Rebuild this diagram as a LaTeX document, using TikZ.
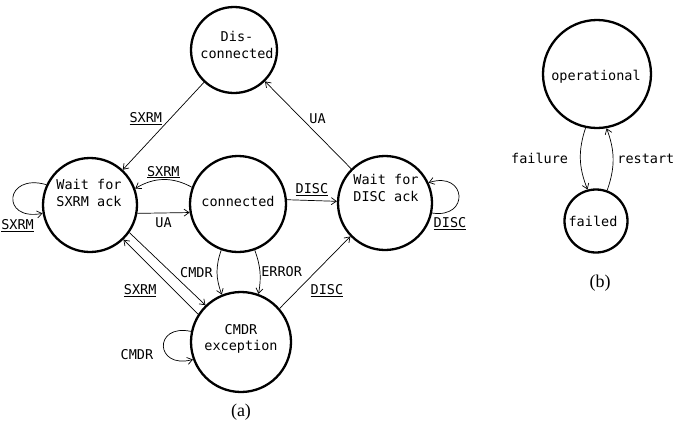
\documentclass[tikz,border=0pt]{standalone}
\usepackage{fontspec}
\setmainfont{Liberation Serif}
\newfontfamily\monof{DejaVu Sans Mono}
\usetikzlibrary{arrows.meta}
\begin{document}
\begin{tikzpicture}[x=1pt,y=-1pt,
  state/.style={circle,draw,line width=2.3pt,inner sep=0pt},
  txt/.style={font=\monof\fontsize{13.5}{16.5}\selectfont,align=center,inner sep=0pt},
  lab/.style={font=\monof\fontsize{13.5}{15}\selectfont,inner sep=1pt},
  arr/.style={-{Straight Barb[length=5pt,width=7pt]},line width=0.7pt},
  capt/.style={font=\fontsize{18}{20}\selectfont,inner sep=0pt}]
\useasboundingbox (0,0) rectangle (675,426);
% states
\node[state,minimum size=86pt]  (dis)  at (234,50)  {};
\node[state,minimum size=94pt]  (wsx)  at (90,205)  {};
\node[state,minimum size=96pt]  (con)  at (238,204) {};
\node[state,minimum size=94pt]  (wdi)  at (385,203) {};
\node[state,minimum size=100pt] (cmdr) at (241,342) {};
\node[state,minimum size=108pt] (op)   at (597,74)  {};
\node[state,minimum size=63pt]  (fail) at (596,221) {};
% state texts
\node[txt] (tdis)  at (237,45)  {Dis-\\connected};
\node[txt] (twsx)  at (89,193)  {Wait for\\SXRM ack};
\node[txt] (tcon)  at (238,201) {connected};
\node[txt] (twdi)  at (386,188) {Wait for\\DISC ack};
\node[txt] (tcmdr) at (241,339) {CMDR\\exception};
\node[txt] (top)   at (596,77)  {operational};
\node[txt] (tfail) at (593,221) {failed};
% transitions (a)
\draw[arr] (dis) -- node[lab,pos=0.5,anchor=south east]{\underline{SXRM}} (wsx);
\draw[arr] (wdi) -- node[lab,pos=0.5,anchor=south west]{UA} (dis);
\draw[arr] (con.160) to[bend right=30] node[lab,above]{\underline{SXRM}} (wsx.20);
\draw[arr] (wsx.-10) -- node[lab,below=3pt]{UA} (con.190);
\draw[arr] (con.5) -- node[lab,above=3pt]{\underline{DISC}} (wdi.178);
\draw[arr] (con.250) to[bend right=20] node[lab,left=3pt]{CMDR} (cmdr.112);
\draw[arr] (con.290) to[bend left=15] node[lab,right=0pt]{ERROR} (cmdr.70);
\draw[arr] (cmdr.147) -- node[lab,pos=0.5,anchor=north east,xshift=-3pt,yshift=-6pt]{\underline{SXRM}} (wsx.-46);
\draw[arr] (wsx.-35) -- (cmdr.134);
\draw[arr] (cmdr.41) -- node[lab,pos=0.42,anchor=north west,yshift=-5pt]{\underline{DISC}} (wdi.224);
% self loops
\draw[arr] (wsx.155) .. controls +(-42,-12) and +(-42,8) .. (wsx.190)
  node[lab,pos=0.75,anchor=north,yshift=-8pt,xshift=-2pt]{\underline{SXRM}};
\draw[arr] (wdi.-12) .. controls +(38,6) and +(38,-12) .. (wdi.25);
\node[lab] (ldisc) at (450,224) {\underline{DISC}};
\draw[arr] (cmdr.168) .. controls +(-38,-8) and +(-38,10) .. (cmdr.200);
\node[lab] (lcmdr) at (137,355) {CMDR};
% (b)
\draw[arr] (op.258) to[bend right=20] node[lab,anchor=east,xshift=-11pt]{failure} (fail.105);
\draw[arr] (fail.70) to[bend right=20] node[lab,anchor=west,xshift=3pt]{restart} (op.280);
% captions
\node[capt] (ca) at (241,412) {(a)};
\node[capt] (cb) at (600,283) {(b)};
\end{tikzpicture}
\end{document}
